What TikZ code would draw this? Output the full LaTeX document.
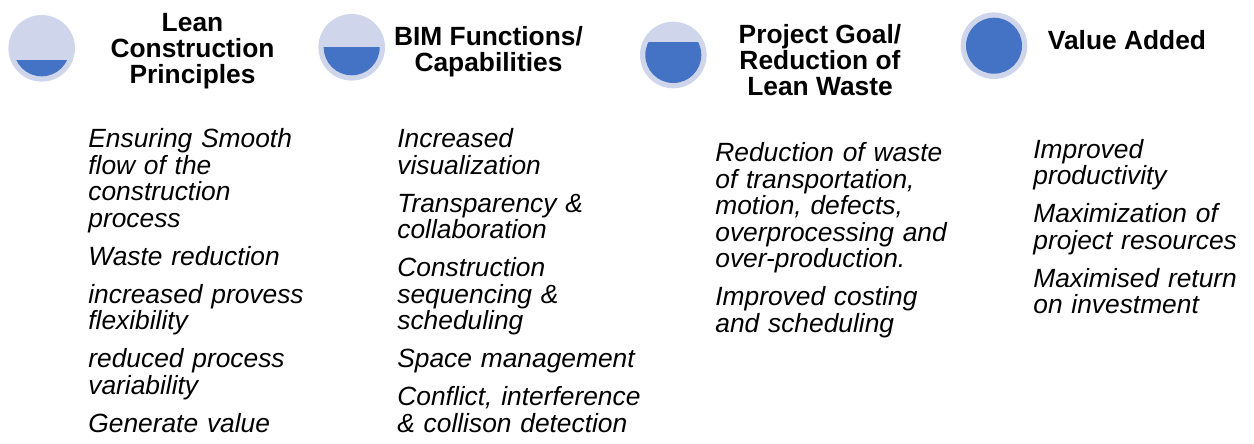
\documentclass[tikz,border=0pt]{standalone}
\usepackage{fontspec}
\setmainfont{Liberation Sans}
\usetikzlibrary{positioning,calc}
\definecolor{ringgrey}{HTML}{CFD5EA}
\definecolor{ballblue}{HTML}{4472C4}
\tikzset{
  ring/.style={circle, fill=ringgrey, inner sep=0pt, minimum size=1.332cm},
  heading/.style={font=\bfseries\fontsize{15}{14.7}\selectfont,
    align=center, inner sep=0pt, anchor=base},
  itemlist/.style={font=\itshape\fontsize{15}{15.1}\selectfont,
    align=left, text width=6cm, inner sep=0pt, anchor=base west}
}

\begin{document}
\begin{tikzpicture}[x=0.02cm, y=-0.02cm]
\useasboundingbox (0,0) rectangle (1254,443);
% filled balls, level measured from the centre
\foreach \k/\cx/\cy/\lvl in {%
  1/41.7/48.3/12,
  2/351.7/47.3/0,
  3/673.3/55/-13,
  4/994/45.7/-30%
} {
  \node[ring] (ball\k) at (\cx,\cy) {};
  \begin{scope}
    \clip (ball\k.center) circle[radius=0.56cm];
    \fill[ballblue] ($(ball\k.center)+(-30,\lvl)$) rectangle ($(ball\k.center)+(30,30)$);
  \end{scope}
}
% headings (base = last line)
\node[heading] (lean) at (192.5,83.3) {Lean\\Construction\\Principles};
\node[heading] (bim) at (488.5,71.7) {BIM Functions/\\Capabilities};
\node[heading] (goal) at (820,95) {Project Goal/\\Reduction of\\Lean Waste};
\node[heading] (value) at (1127,49.3) {Value Added};
% lists
\node[itemlist] (leanlist) at (88,147.7) {Ensuring Smooth\\flow of the\\construction\\process\\[6.5pt]Waste reduction\\[6.5pt]increased provess\\flexibility\\[6.5pt]reduced process\\variability\\[6.5pt]Generate value};
\node[itemlist] (bimlist) at (397,147.7) {Increased\\visualization\\[6.5pt]Transparency \&\\collaboration\\[6.5pt]Construction\\sequencing \&\\scheduling\\[6.5pt]Space management\\[6.5pt]Conflict, interference\\\& collison detection};
\node[itemlist] (goallist) at (715,161.7) {Reduction of waste\\of transportation,\\motion, defects,\\overprocessing and\\over-production.\\[6.5pt]Improved costing\\and scheduling};
\node[itemlist] (valuelist) at (1033,158.3) {Improved\\productivity\\[6.5pt]Maximization of\\project resources\\[6.5pt]Maximised return\\on investment};
\end{tikzpicture}
\end{document}
